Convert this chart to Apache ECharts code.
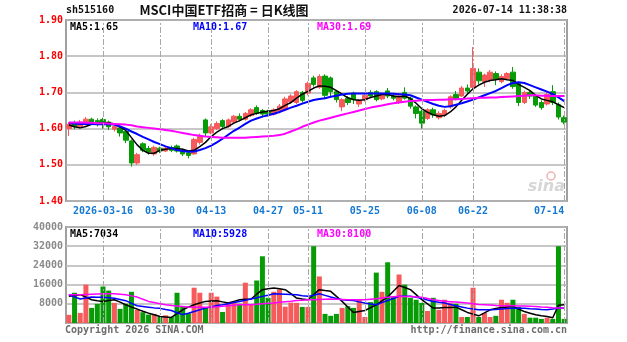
<!DOCTYPE html>
<html>
<head>
<meta charset="utf-8">
<script src="https://cdn.jsdelivr.net/npm/echarts@6/dist/echarts.min.js"></script>
<style>
html, body { margin: 0; padding: 0; background: #fff; }
#chart { width: 627px; height: 342px; }
</style>
</head>
<body>
<div id="chart"></div>
<script>
const dates = ['03-06','03-09','03-10','03-11','03-12','03-13','03-16','03-17','03-18','03-19','03-20','03-23','03-24','03-25','03-26','03-27','03-30','03-31',
	'04-01','04-02','04-03','04-07','04-08','04-09','04-10','04-13','04-14','04-15','04-16','04-17','04-20','04-21','04-22','04-23','04-24','04-27','04-28','04-29','04-30',
	'05-06','05-07','05-08','05-11','05-12','05-13','05-14','05-15','05-18','05-19','05-20','05-21','05-22','05-25','05-26','05-27','05-28','05-29',
	'06-01','06-02','06-03','06-04','06-05','06-08','06-09','06-10','06-11','06-12','06-15','06-16','06-17','06-18','06-22','06-23','06-24','06-25','06-26','06-29','06-30',
	'07-01','07-02','07-03','07-06','07-07','07-08','07-09','07-10','07-13','07-14']
const labelDates = ['03-16','03-30','04-13','04-27','05-11','05-25','06-08','06-22','07-14']

const opens = [1.600,1.615,1.605,1.612,1.626,1.622,1.625,1.618,1.598,1.602,1.592,1.566,1.505,1.558,1.545,1.530,1.546,1.538,1.548,1.552,
	1.540,1.533,1.530,1.562,1.624,1.588,1.600,1.622,1.606,1.618,1.634,1.626,1.636,1.658,1.650,1.648,1.640,1.648,1.652,1.674,
	1.672,1.700,1.698,1.740,1.714,1.745,1.740,1.702,1.660,1.684,1.698,1.668,1.680,1.700,1.702,1.682,1.704,1.690,1.672,1.700,
	1.684,1.660,1.648,1.628,1.652,1.630,1.638,1.660,1.694,1.690,1.712,1.714,1.756,1.730,1.734,1.752,1.730,1.738,1.756,1.724,
	1.672,1.700,1.690,1.672,1.668,1.702,1.666,1.630]
const closes = [1.612,1.605,1.618,1.626,1.615,1.612,1.612,1.605,1.606,1.588,1.568,1.505,1.528,1.540,1.535,1.548,1.538,1.546,1.540,1.538,
	1.530,1.526,1.570,1.578,1.588,1.605,1.614,1.606,1.624,1.634,1.626,1.642,1.652,1.642,1.640,1.640,1.652,1.662,1.682,1.690,
	1.702,1.678,1.725,1.722,1.744,1.692,1.702,1.680,1.680,1.672,1.680,1.678,1.692,1.690,1.680,1.694,1.690,1.684,1.690,1.684,
	1.662,1.642,1.615,1.652,1.638,1.642,1.650,1.688,1.684,1.712,1.704,1.766,1.732,1.748,1.756,1.736,1.744,1.752,1.716,1.672,
	1.700,1.690,1.665,1.658,1.694,1.672,1.632,1.618]
const lows = [1.580,1.598,1.600,1.608,1.610,1.606,1.600,1.596,1.592,1.578,1.560,1.495,1.500,1.535,1.528,1.525,1.532,1.535,1.535,1.534,
	1.524,1.518,1.528,1.556,1.578,1.584,1.596,1.600,1.602,1.615,1.620,1.622,1.632,1.638,1.634,1.634,1.636,1.642,1.648,1.668,
	1.668,1.672,1.692,1.716,1.710,1.682,1.690,1.672,1.648,1.665,1.668,1.660,1.675,1.684,1.675,1.678,1.684,1.678,1.668,1.680,
	1.655,1.628,1.600,1.624,1.630,1.625,1.632,1.655,1.678,1.688,1.698,1.710,1.722,1.715,1.728,1.720,1.725,1.734,1.710,1.662,
	1.668,1.682,1.660,1.652,1.664,1.665,1.625,1.612]
const highs = [1.618,1.622,1.624,1.632,1.630,1.628,1.630,1.622,1.612,1.606,1.596,1.570,1.533,1.562,1.552,1.553,1.550,1.551,1.553,1.556,
	1.545,1.538,1.575,1.586,1.628,1.612,1.620,1.626,1.628,1.638,1.642,1.646,1.656,1.664,1.654,1.652,1.656,1.668,1.688,1.695,
	1.706,1.704,1.730,1.746,1.750,1.750,1.744,1.706,1.684,1.690,1.702,1.682,1.696,1.706,1.706,1.698,1.712,1.696,1.694,1.714,
	1.688,1.664,1.652,1.656,1.658,1.648,1.655,1.692,1.704,1.718,1.722,1.825,1.766,1.752,1.762,1.758,1.750,1.756,1.770,1.730,
	1.705,1.706,1.696,1.678,1.700,1.720,1.672,1.636]

const ma5 = [1.610,1.605,1.602,1.606,1.612,1.614,1.615,1.616,1.613,1.605,1.595,1.575,1.555,1.540,1.532,1.532,1.540,1.543,1.545,1.545,
	1.543,1.538,1.540,1.550,1.562,1.578,1.590,1.600,1.606,1.615,1.622,1.630,1.638,1.642,1.646,1.648,1.650,1.655,1.664,1.672,
	1.684,1.695,1.703,1.712,1.718,1.717,1.714,1.705,1.695,1.685,1.680,1.678,1.680,1.686,1.690,1.694,1.695,1.690,1.688,1.690,
	1.683,1.670,1.655,1.645,1.638,1.634,1.636,1.646,1.660,1.678,1.695,1.710,1.720,1.728,1.733,1.735,1.738,1.735,1.733,1.722,
	1.714,1.705,1.692,1.682,1.678,1.674,1.666,1.658]
const ma10 = [1.615,1.614,1.613,1.613,1.613,1.612,1.612,1.612,1.611,1.606,1.600,1.592,1.585,1.577,1.570,1.563,1.557,1.551,1.546,1.541,
	1.538,1.536,1.537,1.541,1.546,1.553,1.562,1.572,1.583,1.594,1.603,1.613,1.622,1.628,1.633,1.637,1.641,1.646,1.652,1.658,
	1.663,1.669,1.674,1.679,1.682,1.684,1.688,1.691,1.694,1.696,1.697,1.697,1.697,1.697,1.697,1.697,1.697,1.696,1.695,1.694,
	1.692,1.686,1.680,1.674,1.668,1.663,1.660,1.662,1.666,1.670,1.675,1.680,1.686,1.692,1.698,1.704,1.712,1.720,1.726,1.728,
	1.726,1.720,1.714,1.708,1.702,1.695,1.686,1.676]
const ma30 = [1.617,1.617,1.617,1.616,1.616,1.615,1.615,1.614,1.613,1.612,1.611,1.609,1.606,1.604,1.602,1.600,1.598,1.596,1.594,1.591,
	1.588,1.585,1.582,1.580,1.578,1.577,1.576,1.575,1.575,1.575,1.575,1.575,1.576,1.577,1.578,1.579,1.580,1.582,1.586,1.592,
	1.598,1.605,1.611,1.617,1.622,1.626,1.630,1.634,1.638,1.642,1.646,1.650,1.654,1.658,1.661,1.664,1.667,1.670,1.672,1.674,
	1.676,1.677,1.678,1.679,1.679,1.680,1.680,1.681,1.681,1.682,1.683,1.684,1.685,1.685,1.686,1.686,1.687,1.688,1.689,1.690,
	1.691,1.692,1.692,1.691,1.691,1.690,1.690,1.690]

const volumes = [3400,12600,4200,16000,6300,8000,15200,13500,8400,5900,8000,13000,5500,4500,3500,3800,2600,3200,2500,12600,
	6700,4000,14700,12600,6300,12600,11000,4600,8400,8800,8000,16800,7600,17700,27800,10500,13000,14000,6800,8500,
	8400,6700,6700,32000,19400,3800,3000,3800,6300,7000,6300,9700,2500,8700,21000,13000,25300,11000,20200,16000,
	10500,9700,8400,5000,10500,5500,9700,8400,8000,2500,2500,14700,2500,4200,2500,3000,9700,8400,9700,6700,
	3800,2200,2200,1700,2200,1700,32000,1700]
const volMa5 = [11100,11500,11800,10800,9700,9300,9000,9400,9700,8700,7600,6600,5800,4900,4100,3400,2700,2500,2300,3900,
	5500,6600,7600,8300,9000,9200,9300,8800,8300,9000,9700,9900,10000,12000,13900,14300,14600,14300,13900,12200,
	10400,10000,9700,11800,13900,13500,13200,11100,9000,6700,4400,4800,5200,6400,7600,9200,10800,13200,15600,14800,
	13900,11800,9700,8000,6200,6300,6500,6500,6600,5500,4400,3700,3000,4200,5500,6000,6500,6700,6900,5800,
	4800,4100,3400,3000,2700,2200,7400,7600]
const volMa10 = [11800,10900,10000,10400,10800,10700,10700,10500,10300,9800,9300,8200,7200,6900,6600,6300,6100,5600,5200,4300,
	3500,4100,4800,5500,6200,6700,7300,7600,8000,8500,9000,9500,10000,10500,11100,11600,12200,12100,12000,11900,
	11800,11400,11100,11600,12200,11500,10800,10200,9700,9500,9400,8800,8300,7900,7600,8500,9400,10200,11100,11100,
	11100,10700,10300,9600,9000,8600,8300,7700,7200,6700,6200,5800,5500,5500,5500,5600,5800,6000,6100,6100,
	6100,5900,5800,5600,5500,5800,6200,6200]
const volMa30 = [11800,11800,11800,11900,12000,12100,12200,12200,12200,12000,11800,11300,10800,9900,9000,8500,8000,7600,7300,7100,
	6900,6700,6600,6600,6600,6700,6800,7000,7200,7400,7600,7600,7600,7800,8000,8200,8300,8600,8900,9100,
	9400,9500,9700,9700,9800,9900,10000,9900,9800,9700,9700,9700,9700,9900,10100,10400,10700,10900,11100,11000,
	11000,10800,10700,10200,9700,9400,9100,8900,8700,8500,8300,8000,7700,7600,7500,7300,7200,7200,7200,7100,
	7100,7000,6900,6700,6600,6400,6300,6200]

const RED = '#f65a5a'
const GREEN = '#079c07'
const MONO = 'DejaVu Sans Mono'

const kData = opens.map((o, i) => [o, closes[i], lows[i], highs[i]])
const volData = volumes.map((v, i) => ({
	value: v,
	itemStyle: { color: closes[i] >= opens[i] ? RED : GREEN }
}))

// dashed vertical lines at the labelled dates
const gridMarks = {
	silent: true,
	symbol: ['none', 'none'],
	label: { show: false },
	lineStyle: { color: '#a8a8a8', type: [6, 2, 2, 2], width: 1 },
	data: labelDates.map(d => ({ xAxis: d }))
}

const chart = echarts.init(document.getElementById('chart'))

const txt = (x, y, text, color, extra) => ({
	type: 'text', x, y,
	style: Object.assign({ text, fill: color, font: 'bold 10px "' + MONO + '"', textVerticalAlign: 'middle' }, extra || {})
})

chart.setOption({
	animation: false,
	backgroundColor: '#fff',
	grid: [
		{ left: 66, right: 60, top: 20, height: 181, show: true, borderColor: '#a0a0a0', borderWidth: 2 },
		{ left: 66, right: 60, top: 227, height: 96, show: true, borderColor: '#a0a0a0', borderWidth: 2 }
	],
	xAxis: [
		{
			type: 'category', gridIndex: 0, data: dates, boundaryGap: true,
			axisLine: { show: false }, axisTick: { show: false }, splitLine: { show: false },
			axisLabel: {
				interval: (i, v) => labelDates.includes(v),
				formatter: v => v === '03-16' ? '2026-' + v : v,
				color: '#1478d2', fontFamily: MONO, fontSize: 10, fontWeight: 'bold', margin: 5,
				alignMaxLabel: 'right'
			}
		},
		{
			type: 'category', gridIndex: 1, data: dates, boundaryGap: true,
			axisLine: { show: false }, axisTick: { show: false }, axisLabel: { show: false }, splitLine: { show: false }
		}
	],
	yAxis: [
		{
			type: 'value', gridIndex: 0, min: 1.4, max: 1.9, interval: 0.1,
			axisLine: { show: false }, axisTick: { show: false },
			axisLabel: { formatter: v => v.toFixed(2), color: '#ff0000', fontFamily: MONO, fontSize: 10, fontWeight: 'bold', margin: 3 },
			splitLine: { lineStyle: { color: '#b4b4b4', width: 1.5 } }
		},
		{
			type: 'value', gridIndex: 1, min: 0, max: 40000, interval: 8000,
			axisLine: { show: false }, axisTick: { show: false },
			axisLabel: { formatter: v => v === 0 ? '' : String(v), color: '#8a8a8a', fontFamily: MONO, fontSize: 10, fontWeight: 'bold', margin: 3 },
			splitLine: { lineStyle: { color: '#b4b4b4', width: 1.5 } }
		}
	],
	series: [
		{
			type: 'candlestick', xAxisIndex: 0, yAxisIndex: 0, data: kData, barWidth: 5,
			itemStyle: { color: RED, color0: GREEN, borderColor: RED, borderColor0: GREEN, borderWidth: 1 },
			markLine: gridMarks
		},
		{ type: 'line', xAxisIndex: 0, yAxisIndex: 0, data: ma5, showSymbol: false, lineStyle: { color: '#000', width: 1.5 } },
		{ type: 'line', xAxisIndex: 0, yAxisIndex: 0, data: ma10, showSymbol: false, lineStyle: { color: '#0000ff', width: 2 } },
		{ type: 'line', xAxisIndex: 0, yAxisIndex: 0, data: ma30, showSymbol: false, lineStyle: { color: '#ff00ff', width: 2 } },
		{
			type: 'bar', xAxisIndex: 1, yAxisIndex: 1, data: volData, barWidth: 5,
			markLine: gridMarks
		},
		{ type: 'line', xAxisIndex: 1, yAxisIndex: 1, data: volMa5, showSymbol: false, lineStyle: { color: '#000', width: 1.5 } },
		{ type: 'line', xAxisIndex: 1, yAxisIndex: 1, data: volMa10, showSymbol: false, lineStyle: { color: '#0000ff', width: 1.5 } },
		{ type: 'line', xAxisIndex: 1, yAxisIndex: 1, data: volMa30, showSymbol: false, lineStyle: { color: '#ff00ff', width: 1.5 } }
	],
	graphic: [
		txt(66, 10, 'sh515160', '#111'),
		txt(224, 10, 'MSCI中国ETF招商 = 日K线图', '#111', { font: 'bold 13px "Noto Sans CJK SC"', textAlign: 'center' }),
		txt(567, 10, '2026-07-14 11:38:38', '#111', { textAlign: 'right' }),
		txt(70, 27, 'MA5:1.65', '#000'),
		txt(193, 27, 'MA10:1.67', '#0000ff'),
		txt(317, 27, 'MA30:1.69', '#ff00ff'),
		txt(70, 234, 'MA5:7034', '#000'),
		txt(193, 234, 'MA10:5928', '#0000ff'),
		txt(317, 234, 'MA30:8100', '#ff00ff'),
		txt(65, 330, 'Copyright 2026 SINA.COM', '#6e6e6e'),
		txt(567, 330, 'http://finance.sina.com.cn', '#6e6e6e', { textAlign: 'right' }),
		{ type: 'text', x: 565, y: 187, style: { text: 'sina', fill: '#d6d6d6', font: 'italic bold 16px "DejaVu Sans"', textAlign: 'right', textVerticalAlign: 'middle' } },
		{ type: 'circle', shape: { cx: 551, cy: 176, r: 4 }, style: { fill: 'none', stroke: '#f0b0b0', lineWidth: 1.5 } }
	]
})
</script>
</body>
</html>
